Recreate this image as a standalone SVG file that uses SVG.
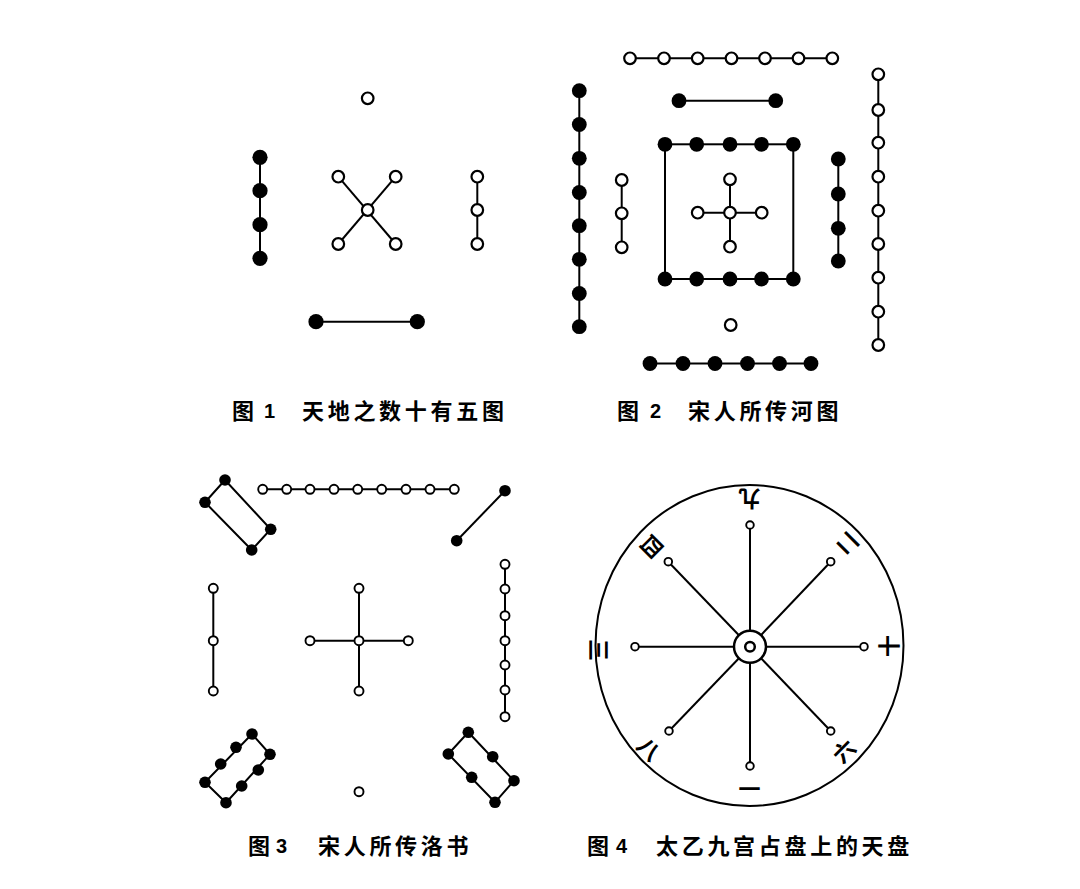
<svg xmlns="http://www.w3.org/2000/svg" width="1080" height="889" viewBox="0 0 1080 889">
<style>
.ln{stroke:#000;stroke-width:2;fill:none}
.o{fill:#fff;stroke:#000;stroke-width:2.2}
.f{fill:#000;stroke:none}
.o3{fill:#fff;stroke:#000;stroke-width:1.9}
.cap{font-family:"Noto Sans CJK SC","Noto Sans",sans-serif;font-size:22px;font-weight:600;fill:#000}
.num{font-family:"Liberation Sans",sans-serif;font-size:20px;font-weight:bold;fill:#000}
.lbl{font-family:"Noto Sans CJK SC",sans-serif;font-size:22px;font-weight:600;fill:#000;text-anchor:middle;dominant-baseline:central}
</style>
<rect width="1080" height="889" fill="#fff"/>

<!-- Figure 1 -->
<g id="fig1">
<g id="fig1-connectors">
<line class="ln" x1="260" y1="157" x2="260" y2="258"/>
<line class="ln" x1="338.3" y1="176.7" x2="395.7" y2="244"/>
<line class="ln" x1="395.7" y1="176.7" x2="338.3" y2="244"/>
<line class="ln" x1="477.3" y1="176.7" x2="477.3" y2="244"/>
<line class="ln" x1="316" y1="321.7" x2="417.3" y2="321.7"/>
</g>
<g id="fig1-top"><circle class="o" cx="367.7" cy="98.3" r="5.8"/></g>
<g id="fig1-left">
<circle class="f" cx="260" cy="157.3" r="7.6"/>
<circle class="f" cx="260" cy="190.7" r="7.6"/>
<circle class="f" cx="260" cy="224.7" r="7.6"/>
<circle class="f" cx="260" cy="258.3" r="7.6"/>
</g>
<g id="fig1-center">
<circle class="o" cx="338.3" cy="176.7" r="5.8"/>
<circle class="o" cx="395.7" cy="176.7" r="5.8"/>
<circle class="o" cx="367.7" cy="210" r="5.8"/>
<circle class="o" cx="338.3" cy="244" r="5.8"/>
<circle class="o" cx="395.7" cy="244" r="5.8"/>
</g>
<g id="fig1-right">
<circle class="o" cx="477.3" cy="176.7" r="5.8"/>
<circle class="o" cx="477.3" cy="210" r="5.8"/>
<circle class="o" cx="477.3" cy="244" r="5.8"/>
</g>
<g id="fig1-bottom">
<circle class="f" cx="316" cy="321.7" r="7.6"/>
<circle class="f" cx="417.3" cy="321.7" r="7.6"/>
</g>
</g>

<!-- Figure 2 -->
<g id="fig2">
<g id="fig2-connectors">
<line class="ln" x1="630" y1="58.3" x2="832.3" y2="58.3"/>
<line class="ln" x1="679" y1="100.7" x2="775.7" y2="100.7"/>
<line class="ln" x1="579.3" y1="90.7" x2="579.3" y2="326.7"/>
<line class="ln" x1="621.7" y1="180" x2="621.7" y2="247.3"/>
<rect class="ln" x="665" y="144.3" width="128.3" height="134.7"/>
<line class="ln" x1="730" y1="179.3" x2="730" y2="246.7"/>
<line class="ln" x1="697.7" y1="212.7" x2="761.7" y2="212.7"/>
<line class="ln" x1="838.3" y1="159" x2="838.3" y2="261"/>
<line class="ln" x1="878.3" y1="74.3" x2="878.3" y2="345"/>
<line class="ln" x1="650" y1="363.5" x2="811" y2="363.5"/>
</g>
<g id="fig2-top">
<circle class="o" cx="630" cy="58.3" r="5.8"/>
<circle class="o" cx="664" cy="58.3" r="5.8"/>
<circle class="o" cx="697.7" cy="58.3" r="5.8"/>
<circle class="o" cx="731.5" cy="58.3" r="5.8"/>
<circle class="o" cx="765" cy="58.3" r="5.8"/>
<circle class="o" cx="798.5" cy="58.3" r="5.8"/>
<circle class="o" cx="832.3" cy="58.3" r="5.8"/>
</g>
<g id="fig2-pair">
<circle class="f" cx="679" cy="100.7" r="7.4"/>
<circle class="f" cx="775.7" cy="100.7" r="7.4"/>
</g>
<g id="fig2-left">
<circle class="f" cx="579.3" cy="90.7" r="7.4"/>
<circle class="f" cx="579.3" cy="124.5" r="7.4"/>
<circle class="f" cx="579.3" cy="158.3" r="7.4"/>
<circle class="f" cx="579.3" cy="192.5" r="7.4"/>
<circle class="f" cx="579.3" cy="225.7" r="7.4"/>
<circle class="f" cx="579.3" cy="259.3" r="7.4"/>
<circle class="f" cx="579.3" cy="293.5" r="7.4"/>
<circle class="f" cx="579.3" cy="326.7" r="7.4"/>
</g>
<g id="fig2-leftinner">
<circle class="o" cx="621.7" cy="180" r="5.8"/>
<circle class="o" cx="621.7" cy="213.3" r="5.8"/>
<circle class="o" cx="621.7" cy="247.3" r="5.8"/>
</g>
<g id="fig2-square">
<circle class="f" cx="665" cy="144.3" r="7.4"/>
<circle class="f" cx="696.7" cy="144.3" r="7.4"/>
<circle class="f" cx="730" cy="144.3" r="7.4"/>
<circle class="f" cx="761.5" cy="144.3" r="7.4"/>
<circle class="f" cx="793.3" cy="144.3" r="7.4"/>
<circle class="f" cx="665" cy="279" r="7.4"/>
<circle class="f" cx="696.7" cy="279" r="7.4"/>
<circle class="f" cx="730" cy="279" r="7.4"/>
<circle class="f" cx="761.5" cy="279" r="7.4"/>
<circle class="f" cx="793.3" cy="279" r="7.4"/>
</g>
<g id="fig2-center">
<circle class="o" cx="730" cy="179.3" r="5.8"/>
<circle class="o" cx="697.7" cy="212.7" r="5.8"/>
<circle class="o" cx="730" cy="212.7" r="5.8"/>
<circle class="o" cx="761.7" cy="212.7" r="5.8"/>
<circle class="o" cx="730" cy="246.7" r="5.8"/>
</g>
<g id="fig2-rightinner">
<circle class="f" cx="838.3" cy="159" r="7.4"/>
<circle class="f" cx="838.3" cy="194" r="7.4"/>
<circle class="f" cx="838.3" cy="228.3" r="7.4"/>
<circle class="f" cx="838.3" cy="261" r="7.4"/>
</g>
<g id="fig2-right">
<circle class="o" cx="878.3" cy="74.3" r="5.8"/>
<circle class="o" cx="878.3" cy="110" r="5.8"/>
<circle class="o" cx="878.3" cy="142.7" r="5.8"/>
<circle class="o" cx="878.3" cy="176.7" r="5.8"/>
<circle class="o" cx="878.3" cy="210.7" r="5.8"/>
<circle class="o" cx="878.3" cy="244" r="5.8"/>
<circle class="o" cx="878.3" cy="277.7" r="5.8"/>
<circle class="o" cx="878.3" cy="311.7" r="5.8"/>
<circle class="o" cx="878.3" cy="345" r="5.8"/>
</g>
<g id="fig2-bottomsingle"><circle class="o" cx="730.7" cy="325" r="5.8"/></g>
<g id="fig2-bottom">
<circle class="f" cx="650" cy="363.5" r="7.4"/>
<circle class="f" cx="683" cy="363.5" r="7.4"/>
<circle class="f" cx="715" cy="363.5" r="7.4"/>
<circle class="f" cx="747.5" cy="363.5" r="7.4"/>
<circle class="f" cx="779.5" cy="363.5" r="7.4"/>
<circle class="f" cx="811" cy="363.5" r="7.4"/>
</g>
</g>

<!-- Figure 3 -->
<g id="fig3">
<g id="fig3-connectors">
<line class="ln" x1="262.7" y1="489.3" x2="454.3" y2="489.3"/>
<polygon class="ln" points="225,480 205,502.3 251.7,550 270.7,529.3"/>
<line class="ln" x1="505" y1="490.7" x2="456.7" y2="540.7"/>
<line class="ln" x1="213.3" y1="588.3" x2="213.3" y2="691"/>
<line class="ln" x1="359" y1="588.3" x2="359" y2="691"/>
<line class="ln" x1="310" y1="640.7" x2="408.3" y2="640.7"/>
<line class="ln" x1="505" y1="564.3" x2="505" y2="716.7"/>
<polygon class="ln" points="252,734 270,754.3 226,802.7 205,782.3"/>
<polygon class="ln" points="468.3,732.3 514,780.7 495,802.3 448.3,754"/>
</g>
<g id="fig3-top">
<circle class="o3" cx="262.7" cy="489.3" r="4.5"/>
<circle class="o3" cx="286.7" cy="489.3" r="4.5"/>
<circle class="o3" cx="310" cy="489.3" r="4.5"/>
<circle class="o3" cx="334" cy="489.3" r="4.5"/>
<circle class="o3" cx="357.7" cy="489.3" r="4.5"/>
<circle class="o3" cx="381.7" cy="489.3" r="4.5"/>
<circle class="o3" cx="406" cy="489.3" r="4.5"/>
<circle class="o3" cx="430" cy="489.3" r="4.5"/>
<circle class="o3" cx="454.3" cy="489.3" r="4.5"/>
</g>
<g id="fig3-topleft">
<circle class="f" cx="225" cy="480" r="5.8"/>
<circle class="f" cx="205" cy="502.3" r="5.8"/>
<circle class="f" cx="270.7" cy="529.3" r="5.8"/>
<circle class="f" cx="251.7" cy="550" r="5.8"/>
</g>
<g id="fig3-topright">
<circle class="f" cx="505" cy="490.7" r="5.8"/>
<circle class="f" cx="456.7" cy="540.7" r="5.8"/>
</g>
<g id="fig3-left">
<circle class="o3" cx="213.3" cy="588.3" r="4.5"/>
<circle class="o3" cx="213.3" cy="640.7" r="4.5"/>
<circle class="o3" cx="213.3" cy="691" r="4.5"/>
</g>
<g id="fig3-center">
<circle class="o3" cx="359" cy="588.3" r="4.5"/>
<circle class="o3" cx="310" cy="640.7" r="4.5"/>
<circle class="o3" cx="359" cy="640.7" r="4.5"/>
<circle class="o3" cx="408.3" cy="640.7" r="4.5"/>
<circle class="o3" cx="359" cy="691" r="4.5"/>
</g>
<g id="fig3-right">
<circle class="o3" cx="505" cy="564.3" r="4.5"/>
<circle class="o3" cx="505" cy="589" r="4.5"/>
<circle class="o3" cx="505" cy="615.7" r="4.5"/>
<circle class="o3" cx="505" cy="640.7" r="4.5"/>
<circle class="o3" cx="505" cy="665" r="4.5"/>
<circle class="o3" cx="505" cy="690" r="4.5"/>
<circle class="o3" cx="505" cy="716.7" r="4.5"/>
</g>
<g id="fig3-bottomleft">
<circle class="f" cx="252" cy="734" r="5.8"/>
<circle class="f" cx="236" cy="747.3" r="5.8"/>
<circle class="f" cx="220.7" cy="764" r="5.8"/>
<circle class="f" cx="205" cy="782.3" r="5.8"/>
<circle class="f" cx="270" cy="754.3" r="5.8"/>
<circle class="f" cx="258.3" cy="770" r="5.8"/>
<circle class="f" cx="241.7" cy="786" r="5.8"/>
<circle class="f" cx="226" cy="802.7" r="5.8"/>
</g>
<g id="fig3-bottomright">
<circle class="f" cx="468.3" cy="732.3" r="5.8"/>
<circle class="f" cx="448.3" cy="754" r="5.8"/>
<circle class="f" cx="492.7" cy="756.7" r="5.8"/>
<circle class="f" cx="471.7" cy="777.3" r="5.8"/>
<circle class="f" cx="514" cy="780.7" r="5.8"/>
<circle class="f" cx="495" cy="802.3" r="5.8"/>
</g>
<g id="fig3-bottom"><circle class="o3" cx="359" cy="791.7" r="4.5"/></g>
</g>

<!-- Figure 4 -->
<g id="fig4">
<ellipse class="ln" cx="749.5" cy="645.5" rx="154" ry="160.5" stroke-width="2.3"/>
<g id="fig4-connectors">
<line class="ln" x1="750" y1="646.7" x2="750" y2="525"/>
<line class="ln" x1="750" y1="646.7" x2="750" y2="766"/>
<line class="ln" x1="750" y1="646.7" x2="635" y2="646.7"/>
<line class="ln" x1="750" y1="646.7" x2="864" y2="646.7"/>
<line class="ln" x1="750" y1="646.7" x2="668.3" y2="561.7"/>
<line class="ln" x1="750" y1="646.7" x2="830.7" y2="561.7"/>
<line class="ln" x1="750" y1="646.7" x2="669" y2="731"/>
<line class="ln" x1="750" y1="646.7" x2="830.7" y2="731"/>
</g>
<g id="fig4-hub">
<circle cx="750" cy="646.7" r="16" fill="#fff" stroke="#000" stroke-width="2.5"/>
<circle cx="750" cy="646.7" r="4.8" fill="#fff" stroke="#000" stroke-width="2.5"/>
</g>
<g id="fig4-ends">
<circle class="o3" cx="750" cy="525" r="3.8"/>
<circle class="o3" cx="750" cy="766" r="3.8"/>
<circle class="o3" cx="635" cy="646.7" r="3.8"/>
<circle class="o3" cx="864" cy="646.7" r="3.8"/>
<circle class="o3" cx="668.3" cy="561.7" r="3.8"/>
<circle class="o3" cx="830.7" cy="561.7" r="3.8"/>
<circle class="o3" cx="669" cy="731" r="3.8"/>
<circle class="o3" cx="830.7" cy="731" r="3.8"/>
</g>
<g id="fig4-labels">
<text class="lbl" transform="translate(749.5,501) rotate(180)">九</text>
<text class="lbl" transform="translate(846,545) rotate(225)">二</text>
<text class="lbl" transform="translate(653,548) rotate(135)">四</text>
<text class="lbl" transform="translate(601,650) rotate(90)">三</text>
<text class="lbl" transform="translate(886.5,646) rotate(-90)">十</text>
<text class="lbl" transform="translate(650,748) rotate(45)">八</text>
<text class="lbl" transform="translate(843,750) rotate(-45)">六</text>
<text class="lbl" transform="translate(749.5,787)">一</text>
</g>
</g>

<!-- Captions -->
<g id="captions">
<text class="cap" x="232" y="419">图</text>
<text class="num" x="264" y="418">1</text>
<text class="cap" x="302" y="419" letter-spacing="3.7">天地之数十有五图</text>
<text class="cap" x="617" y="419">图</text>
<text class="num" x="650" y="418">2</text>
<text class="cap" x="688" y="419" letter-spacing="3.7">宋人所传河图</text>
<text class="cap" x="248" y="854">图</text>
<text class="num" x="276" y="853">3</text>
<text class="cap" x="318" y="854" letter-spacing="3.7">宋人所传洛书</text>
<text class="cap" x="587" y="854">图</text>
<text class="num" x="616" y="853">4</text>
<text class="cap" x="656" y="854" letter-spacing="3.7">太乙九宫占盘上的天盘</text>
</g>
</svg>
